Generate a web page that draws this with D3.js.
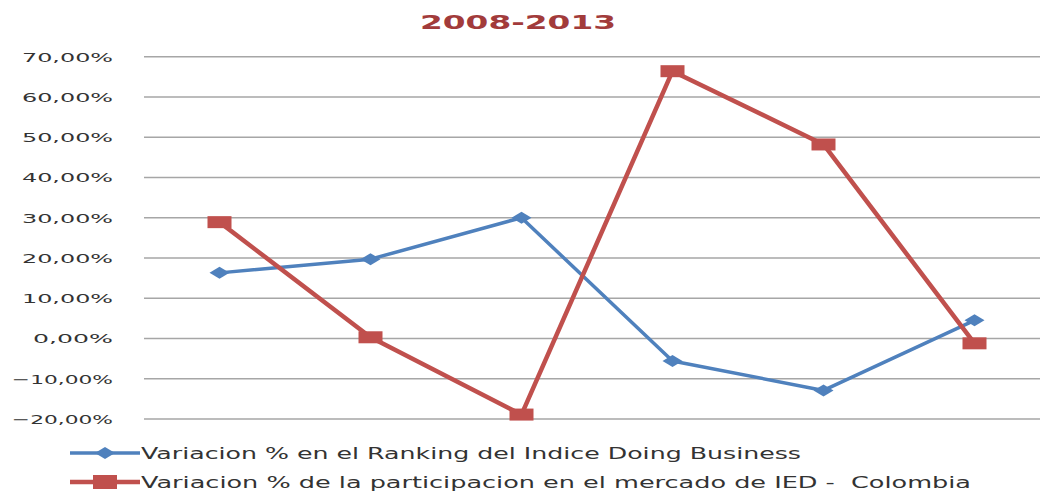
<!DOCTYPE html>
<html>
<head>
<meta charset="utf-8">
<script src="https://cdn.jsdelivr.net/npm/d3@7"></script>
<style>
  body { margin: 0; background: #fff; }
  svg { display: block; font-family: "DejaVu Sans", Verdana, sans-serif; }
  text { white-space: pre; }
</style>
</head>
<body>
<div id="chart"></div>
<script>
// years 2008-2013, one point each
const years = ["2008", "2009", "2010", "2011", "2012", "2013"];
const rankingVar = [0.163, 0.197, 0.300, -0.056, -0.129, 0.045];
const iedVar = [0.289, 0.003, -0.189, 0.664, 0.482, -0.012];
const yTicks = [-0.2, -0.1, 0, 0.1, 0.2, 0.3, 0.4, 0.5, 0.6, 0.7];
const seriesNames = [
    "Variacion % en el Ranking del Indice Doing Business",
    "Variacion % de la participacion en el mercado de IED -  Colombia"
];

const width = 1040, height = 492;
const svg = d3.select("#chart").append("svg")
    .attr("width", width)
    .attr("height", height);

const x = d3.scalePoint()
    .domain(years)
    .range([144, 1050])
    .padding(0.5);

const y = d3.scaleLinear()
    .domain([-0.2, 0.7])
    .range([419, 56.7]);

const fmt = v => d3.format(".2f")(v * 100).replace(".", ",") + "%";

// title
svg.append("text")
    .attr("x", 518)
    .attr("y", 29)
    .attr("text-anchor", "middle")
    .attr("font-size", 19)
    .attr("font-weight", "bold")
    .attr("fill", "#a23b3b")
    .attr("textLength", 196)
    .attr("lengthAdjust", "spacingAndGlyphs")
    .text("2008-2013");

// gridlines + y labels
const grid = svg.append("g");
grid.selectAll("line")
    .data(yTicks)
    .enter()
    .append("line")
    .attr("x1", 144)
    .attr("x2", 1040)
    .attr("y1", d => y(d))
    .attr("y2", d => y(d))
    .attr("stroke", "#a6a6a6")
    .attr("stroke-width", 1.5);

grid.selectAll("text")
    .data(yTicks)
    .enter()
    .append("text")
    .attr("x", 113)
    .attr("y", d => y(d) + 5)
    .attr("text-anchor", "end")
    .attr("font-size", 13)
    .attr("fill", "#333")
    .attr("textLength", d => d < 0 ? 101 : (d === 0 ? 80 : 91))
    .attr("lengthAdjust", "spacingAndGlyphs")
    .text(d => fmt(d));

const line = d3.line()
    .x((d, i) => x(years[i]))
    .y(d => y(d));

// blue series
svg.append("path")
    .datum(rankingVar)
    .attr("d", line)
    .attr("fill", "none")
    .attr("stroke", "#4f81bd")
    .attr("stroke-width", 3.5)
    .attr("stroke-linejoin", "round");

const diamond = (cx, cy) => `M${cx - 10},${cy} L${cx},${cy - 6} L${cx + 10},${cy} L${cx},${cy + 6} Z`;

svg.append("g").selectAll("path")
    .data(rankingVar)
    .enter()
    .append("path")
    .attr("d", (d, i) => diamond(x(years[i]), y(d)))
    .attr("fill", "#4f81bd");

// red series
svg.append("path")
    .datum(iedVar)
    .attr("d", line)
    .attr("fill", "none")
    .attr("stroke", "#c0504d")
    .attr("stroke-width", 4.5)
    .attr("stroke-linejoin", "round");

svg.append("g").selectAll("rect")
    .data(iedVar)
    .enter()
    .append("rect")
    .attr("x", (d, i) => x(years[i]) - 12)
    .attr("y", d => y(d) - 6)
    .attr("width", 24)
    .attr("height", 12)
    .attr("fill", "#c0504d");

// legend
const legendRows = [
    { name: seriesNames[0], color: "#4f81bd", shape: "diamond", y: 453, len: 660 },
    { name: seriesNames[1], color: "#c0504d", shape: "square", y: 482, len: 830 }
];

const legend = svg.append("g");
legendRows.forEach(r => {
    legend.append("line")
        .attr("x1", 70).attr("x2", 140)
        .attr("y1", r.y).attr("y2", r.y)
        .attr("stroke", r.color)
        .attr("stroke-width", r.shape === "square" ? 4.5 : 3.5);
    if (r.shape === "diamond") {
        legend.append("path")
            .attr("d", diamond(105, r.y))
            .attr("fill", r.color);
    } else {
        legend.append("rect")
            .attr("x", 93).attr("y", r.y - 7)
            .attr("width", 24).attr("height", 14)
            .attr("fill", r.color);
    }
    legend.append("text")
        .attr("x", 141)
        .attr("y", r.y + 6)
        .attr("font-size", 15)
        .attr("fill", "#333")
        .attr("textLength", r.len)
        .attr("lengthAdjust", "spacingAndGlyphs")
        .text(r.name);
});
</script>
</body>
</html>
